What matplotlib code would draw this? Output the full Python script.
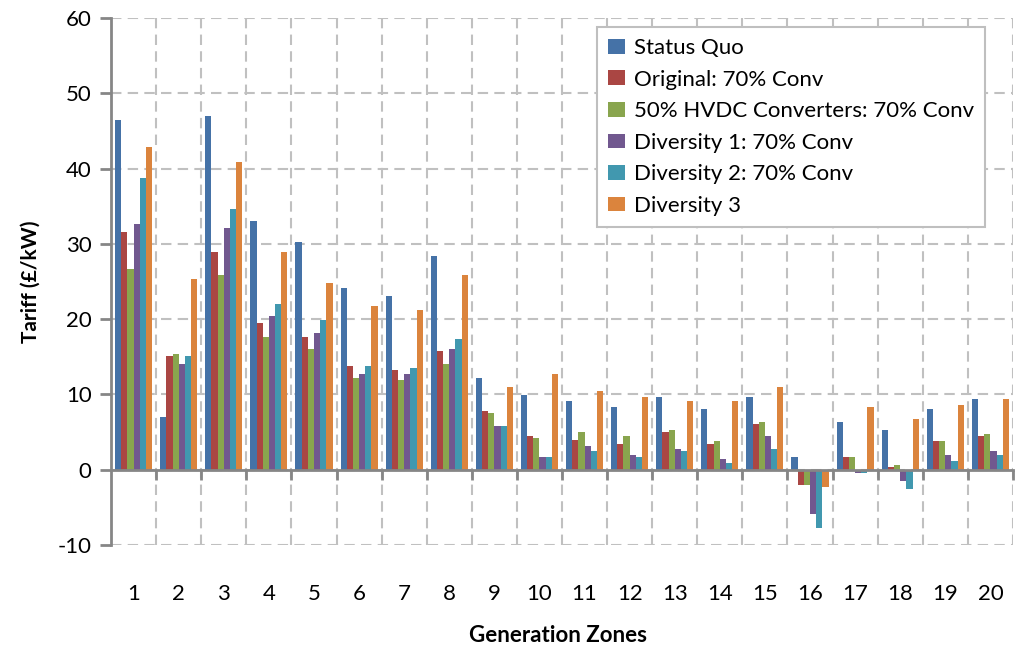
import numpy as np
import matplotlib.pyplot as plt

plt.rcParams['font.family'] = ['Lato', 'DejaVu Sans']
plt.rcParams['axes.unicode_minus'] = False

# data
zones = list(range(1, 21))
series_names = ["Status Quo", "Original: 70% Conv", "50% HVDC Converters: 70% Conv",
                "Diversity 1: 70% Conv", "Diversity 2: 70% Conv", "Diversity 3"]
status_quo = [46.5, 7.0, 47.0, 33.0, 30.2, 24.1, 23.1, 28.4, 12.2, 9.9,
              9.1, 8.3, 9.6, 8.1, 9.6, 1.7, 6.3, 5.3, 8.1, 9.4]
original = [31.6, 15.1, 28.9, 19.5, 17.6, 13.8, 13.2, 15.8, 7.8, 4.5,
            3.9, 3.4, 5.0, 3.4, 6.1, -2.0, 1.7, 0.3, 3.8, 4.5]
hvdc50 = [26.7, 15.4, 25.9, 17.6, 16.0, 12.2, 11.9, 14.0, 7.5, 4.2,
          5.0, 4.5, 5.3, 3.8, 6.3, -2.0, 1.7, 0.6, 3.8, 4.7]
diversity1 = [32.7, 14.0, 32.1, 20.4, 18.1, 12.7, 12.7, 16.0, 5.8, 1.7,
              3.1, 1.9, 2.8, 1.4, 4.5, -5.9, -0.5, -1.5, 1.9, 2.5]
diversity2 = [38.7, 15.1, 34.6, 22.0, 19.9, 13.8, 13.5, 17.4, 5.8, 1.7,
              2.5, 1.7, 2.5, 0.9, 2.8, -7.7, -0.5, -2.6, 1.1, 1.9]
diversity3 = [42.9, 25.3, 40.9, 28.9, 24.8, 21.7, 21.2, 25.9, 11.0, 12.7,
              10.4, 9.6, 9.1, 9.1, 11.0, -2.3, 8.3, 6.8, 8.6, 9.4]
colors = ["#4572A7", "#AA4643", "#89A54E", "#71588F", "#4198AF", "#DB843D"]

all_series = [status_quo, original, hvdc50, diversity1, diversity2, diversity3]

fig = plt.figure(figsize=(10.16, 6.53), dpi=100)
ax = fig.add_axes([0.1093, 0.1654, 0.8877, 0.807])

x = np.array(zones)
width = 0.137
for i, vals in enumerate(all_series):
    ax.bar(x + (i - 2.5) * width, vals, width, color=colors[i], label=series_names[i], zorder=3)

ax.set_xlim(0.5, 20.5)
ax.set_ylim(-10, 60)
ax.set_yticks(range(-10, 61, 10))

# boundaries as major ticks (grid + tick marks), labels on minor ticks
ax.set_xticks(np.arange(1.5, 20.6, 1))
ax.set_xticks(x, minor=True)
ax.set_xticklabels([])
ax.set_xticklabels([str(z) for z in zones], minor=True)
ax.tick_params(axis='x', which='major', length=7, width=2, color="#868686", direction='out')
ax.tick_params(axis='x', which='minor', length=0, pad=82, labelsize=16)
ax.tick_params(axis='y', length=8, width=2, color="#868686", labelsize=16, pad=6)

ax.grid(True, which='major', linestyle=(0, (5, 3)), color="#C0C0C0", linewidth=1.5, zorder=0)

for s in ['top', 'right']:
    ax.spines[s].set_visible(False)
ax.spines['bottom'].set_position(('data', 0))
ax.spines['bottom'].set_color("#868686")
ax.spines['bottom'].set_linewidth(2)
ax.spines['bottom'].set_zorder(4)
ax.spines['left'].set_color("#868686")
ax.spines['left'].set_linewidth(2)

ax.set_ylabel("Tariff (£/kW)", fontsize=15, fontweight='bold', labelpad=12)
fig.text(0.5493, 1 - 636 / 653, "Generation Zones", fontsize=16, fontweight='bold',
         ha='center', va='center')

leg = ax.legend(loc='upper left', bbox_to_anchor=(597 / 1016, 1 - 27 / 653),
                bbox_transform=fig.transFigure, fontsize=16, frameon=True, fancybox=False,
                borderaxespad=0, handlelength=0.75, handleheight=0.65, handletextpad=0.4,
                labelspacing=0.52, borderpad=0.5)
leg.get_frame().set_edgecolor("#BFBFBF")
leg.get_frame().set_linewidth(1.5)
leg.get_frame().set_alpha(1)

plt.savefig("out.png", dpi=100)
